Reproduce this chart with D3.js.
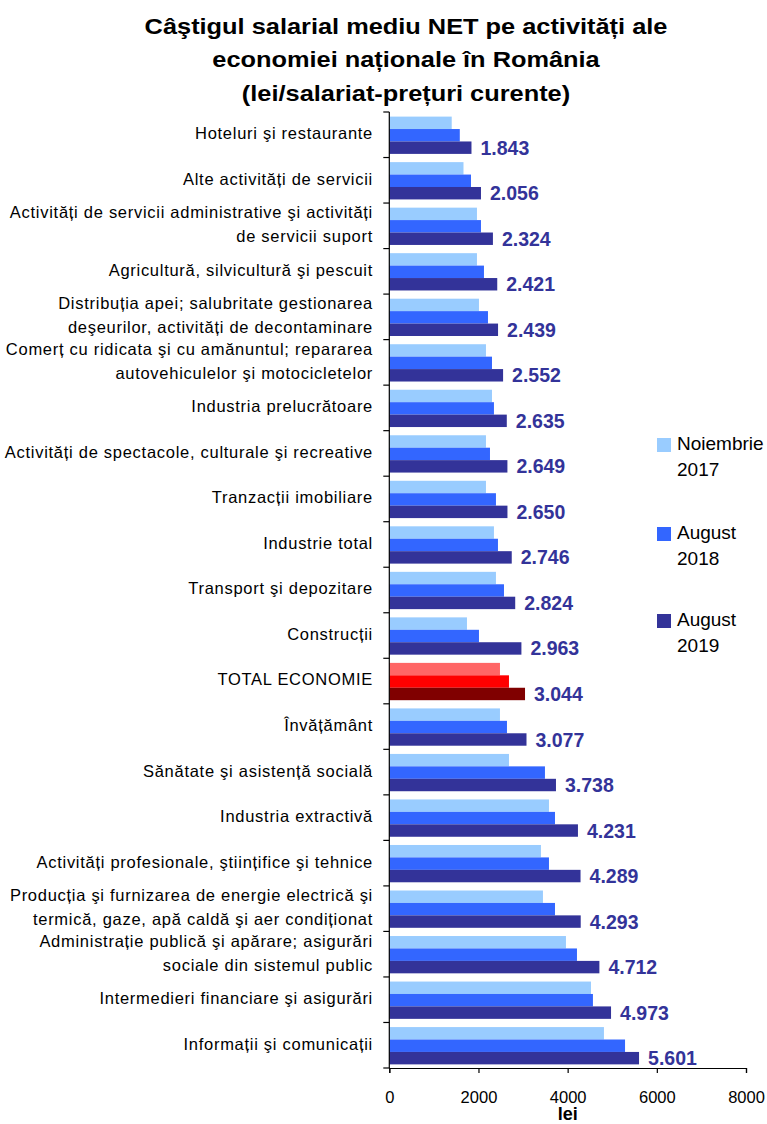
<!DOCTYPE html>
<html>
<head>
<meta charset="utf-8">
<script src="https://cdn.jsdelivr.net/npm/d3@7"></script>
<style>
  html, body { margin: 0; padding: 0; background: #fff; }
  svg { display: block; font-family: Arial, "Liberation Sans", sans-serif; }
</style>
</head>
<body>
<svg id="chart" width="767" height="1124"></svg>
<script>
const titleLines = [
  "Câştigul salarial mediu NET pe activități ale",
  "economiei naționale în România",
  "(lei/salariat-prețuri curente)"
];

const categories = [
  "Hoteluri şi restaurante",
  "Alte activități de servicii",
  "Activități de servicii administrative şi activități\nde servicii suport",
  "Agricultură, silvicultură şi pescuit",
  "Distribuția apei; salubritate gestionarea\ndeşeurilor, activități de decontaminare",
  "Comerț cu ridicata şi cu amănuntul; repararea\nautovehiculelor şi motocicletelor",
  "Industria prelucrătoare",
  "Activități de spectacole, culturale şi recreative",
  "Tranzacții imobiliare",
  "Industrie total",
  "Transport şi depozitare",
  "Construcții",
  "TOTAL ECONOMIE",
  "Învățământ",
  "Sănătate şi asistență socială",
  "Industria extractivă",
  "Activități profesionale, ştiințifice şi tehnice",
  "Producția şi furnizarea de energie electrică şi\ntermică, gaze, apă caldă şi aer condiționat",
  "Administrație publică şi apărare; asigurări\nsociale din sistemul public",
  "Intermedieri financiare şi asigurări",
  "Informații şi comunicații"
];

const nov2017 = [1400,1664,1966,1966,2011,2168,2303,2168,2168,2347,2392,1742,2482,2482,2684,3581,3401,3446,3962,4523,4814];
const aug2018 = [1581,1832,2056,2123,2213,2303,2347,2258,2392,2437,2572,2011,2684,2639,3491,3716,3581,3716,4209,4567,5287];
const aug2019 = [1843,2056,2324,2421,2439,2552,2635,2649,2650,2746,2824,2963,3044,3077,3738,4231,4289,4293,4712,4973,5601];
const valueLabels = ["1.843","2.056","2.324","2.421","2.439","2.552","2.635","2.649","2.650","2.746","2.824","2.963","3.044","3.077","3.738","4.231","4.289","4.293","4.712","4.973","5.601"];

const seriesNames = ["Noiembrie\n2017", "August\n2018", "August\n2019"];
const seriesColors = ["#99CCFF", "#3366FF", "#333399"];
const highlightCategory = "TOTAL ECONOMIE";
const highlightColors = ["#FF6666", "#FF0000", "#800000"];

const xTicks = [0, 2000, 4000, 6000, 8000];
const xAxisTitle = "lei";

const svg = d3.select("#chart");

// Title (reference glyphs are horizontally stretched)
svg.append("g")
  .attr("transform", "translate(406,0) scale(1.18,1)")
  .selectAll("text").data(titleLines).join("text")
  .attr("x", 0)
  .attr("y", (d, i) => 34 + i * 33.5)
  .attr("text-anchor", "middle")
  .attr("font-size", 21.5)
  .attr("font-weight", "bold")
  .attr("fill", "#000")
  .text(d => d);

const x = d3.scaleLinear().domain([0, 8000]).range([389.3, 746]);
const y0 = d3.scaleBand().domain(categories).range([112, 1068]).padding(0);
const y1 = d3.scaleBand().domain([0, 1, 2]).range([4.6, 41.9]).padding(0);

const rows = categories.map((c, i) => ({
  cat: c,
  vals: [nov2017[i], aug2018[i], aug2019[i]],
  label: valueLabels[i]
}));

const plot = svg.append("g");
const groups = plot.selectAll("g.row").data(rows).join("g")
  .attr("class", "row")
  .attr("transform", d => `translate(0,${y0(d.cat)})`);

groups.selectAll("rect").data(d => d.vals.map((v, k) => ({ v, k, cat: d.cat }))).join("rect")
  .attr("x", x(0))
  .attr("y", d => y1(d.k))
  .attr("width", d => x(d.v) - x(0))
  .attr("height", y1.bandwidth())
  .attr("fill", d => d.cat === highlightCategory ? highlightColors[d.k] : seriesColors[d.k]);

groups.append("text")
  .attr("x", d => x(d.vals[2]) + 9)
  .attr("y", y1(2) + y1.bandwidth() / 2)
  .attr("dy", "0.36em")
  .attr("font-size", 19.5)
  .attr("font-weight", "bold")
  .attr("fill", "#333399")
  .text(d => d.label);

// Category labels
const catG = svg.append("g");
rows.forEach(r => {
  const lines = r.cat.split("\n");
  const cy = y0(r.cat) + y0.bandwidth() / 2;
  const spacing = 24;
  const t = catG.append("text")
    .attr("text-anchor", "end")
    .attr("font-size", 16.5)
    .attr("letter-spacing", "0.72px")
    .attr("fill", "#000");
  lines.forEach((ln, j) => {
    t.append("tspan")
      .attr("x", 373)
      .attr("y", cy - 1.5 + (j - (lines.length - 1) / 2) * spacing)
      .attr("dy", "0.36em")
      .text(ln);
  });
});

// Y axis line and boundary ticks
const bounds = categories.map(c => y0(c)).concat([y0.range()[1]]);
svg.append("line")
  .attr("x1", x(0)).attr("x2", x(0))
  .attr("y1", y0.range()[0]).attr("y2", y0.range()[1])
  .attr("stroke", "#000").attr("stroke-width", 1.2);
svg.append("g").selectAll("line").data(bounds).join("line")
  .attr("x1", x(0) - 6).attr("x2", x(0))
  .attr("y1", d => d).attr("y2", d => d)
  .attr("stroke", "#000").attr("stroke-width", 1.2);

// X axis
const xAxis = svg.append("g")
  .attr("transform", `translate(0,${y0.range()[1]})`)
  .call(d3.axisBottom(x).tickValues(xTicks).tickSize(5).tickPadding(18).tickFormat(d3.format("d")));
xAxis.select(".domain").attr("stroke", "#000").attr("stroke-width", 1.2);
xAxis.selectAll(".tick line").attr("stroke", "#000").attr("stroke-width", 1.2);
xAxis.selectAll(".tick text")
  .attr("font-size", 16.5)
  .attr("font-family", "Arial, 'Liberation Sans', sans-serif")
  .attr("fill", "#000");

svg.append("text")
  .attr("x", (x.range()[0] + x.range()[1]) / 2)
  .attr("y", 1120)
  .attr("text-anchor", "middle")
  .attr("font-size", 18)
  .attr("font-weight", "bold")
  .attr("fill", "#000")
  .text(xAxisTitle);

// Legend
const legendY = [438, 527, 614];
const legend = svg.append("g").selectAll("g").data(seriesNames).join("g")
  .attr("transform", (d, i) => `translate(657,${legendY[i]})`);
legend.append("rect")
  .attr("width", 14).attr("height", 14)
  .attr("fill", (d, i) => seriesColors[i]);
legend.each(function(d) {
  const t = d3.select(this).append("text")
    .attr("font-size", 19)
    .attr("fill", "#000");
  d.split("\n").forEach((ln, j) => {
    t.append("tspan")
      .attr("x", 20)
      .attr("y", 5 + j * 26)
      .attr("dy", "0.36em")
      .text(ln);
  });
});
</script>
</body>
</html>
